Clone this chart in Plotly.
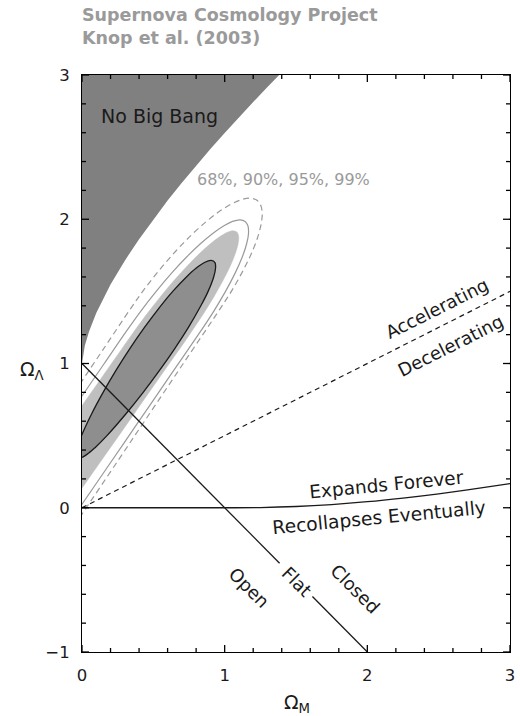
import plotly.graph_objects as go

# "No Big Bang" boundary (Omega_M, Omega_Lambda)
nbb_om = [0, 0.01, 0.02, 0.05, 0.1, 0.2, 0.3, 0.4, 0.5, 0.6, 0.7, 0.8, 0.9, 1.0, 1.1, 1.2, 1.3, 1.4]
nbb_ol = [1.0, 1.08, 1.125, 1.224, 1.35, 1.547, 1.713, 1.862, 2.0, 2.13, 2.253, 2.372, 2.487, 2.598, 2.707, 2.813, 2.917, 3.018]

# Expands forever / recollapses boundary
exp_om = [0, 1.0, 1.25, 1.5, 1.75, 2.0, 2.25, 2.5, 2.75, 3.0]
exp_ol = [0, 0, 0.0015, 0.0087, 0.0223, 0.0419, 0.0671, 0.0964, 0.1306, 0.1675]

# Accelerating / decelerating boundary
acc_om = [0, 3]
acc_ol = [0, 1.5]

# Flat universe line (gap for label)
flat_om = [0, 1.385, None, 1.615, 2]
flat_ol = [1, -0.385, None, -0.615, -1]

# Confidence contours (outlines; parts left of Omega_M = 0 are clipped)
c68_om = [-0.018, -0.038, -0.030, -0.003, 0.067, 0.148, 0.237, 0.333, 0.438, 0.552, 0.636, 0.732, 0.799, 0.858, 0.905,
          0.932, 0.936, 0.923, 0.884, 0.833, 0.746, 0.648, 0.542, 0.429, 0.307, 0.175, 0.095, 0.035, -0.018]
c68_ol = [0.345, 0.37, 0.42, 0.50, 0.65, 0.80, 0.95, 1.10, 1.25, 1.40, 1.50, 1.60, 1.66, 1.70, 1.715,
          1.70, 1.66, 1.60, 1.50, 1.40, 1.25, 1.10, 0.95, 0.80, 0.65, 0.50, 0.42, 0.37, 0.345]

c90_om = [-0.147, 0.030, 0.207, 0.339, 0.437, 0.547, 0.649, 0.741, 0.821, 0.900, 0.967, 1.020, 1.06,
          1.087, 1.098, 1.094, 1.074, 1.041, 0.991, 0.923, 0.835, 0.744, 0.541, 0.329, 0.116, -0.061]
c90_ol = [0.50, 0.75, 1.0, 1.186, 1.32, 1.46, 1.58, 1.68, 1.76, 1.83, 1.88, 1.91, 1.92,
          1.91, 1.88, 1.83, 1.76, 1.68, 1.58, 1.46, 1.32, 1.186, 0.90, 0.60, 0.30, 0.05]

c95_om = [-0.191, -0.017, 0.156, 0.3165, 0.410, 0.520, 0.631, 0.735, 0.830, 0.914, 0.995, 1.0555, 1.107,
          1.1433, 1.163, 1.167, 1.154, 1.124, 1.075, 1.006, 0.922, 0.8365, 0.607, 0.399, 0.191, -0.017]
c95_ol = [0.50, 0.75, 1.0, 1.231, 1.36, 1.50, 1.63, 1.74, 1.83, 1.90, 1.955, 1.985, 1.996,
          1.985, 1.955, 1.90, 1.83, 1.74, 1.63, 1.50, 1.36, 1.231, 0.90, 0.60, 0.30, 0.0]

c99_om = [-0.054, 0.15, 0.3445, 0.433, 0.544, 0.658, 0.766, 0.867, 0.957, 1.046, 1.115, 1.175,
          1.221, 1.249, 1.263, 1.258, 1.236, 1.195, 1.132, 1.053, 0.9725, 0.71, 0.438, 0.234, 0.03, -0.004]
c99_ol = [0.80, 1.10, 1.386, 1.51, 1.65, 1.78, 1.89, 1.98, 2.05, 2.105, 2.135, 2.146,
          2.135, 2.105, 2.05, 1.98, 1.89, 1.78, 1.65, 1.51, 1.386, 1.0, 0.60, 0.30, 0.0, -0.05]

# tick positions (major labelled, minor unlabelled)
x_major = [0, 1, 2, 3]
y_major = [-1, 0, 1, 2, 3]
x_minor = [0.2, 0.4, 0.6, 0.8, 1.2, 1.4, 1.6, 1.8, 2.2, 2.4, 2.6, 2.8]
y_minor = [-0.8, -0.6, -0.4, -0.2, 0.2, 0.4, 0.6, 0.8, 1.2, 1.4, 1.6, 1.8, 2.2, 2.4, 2.6, 2.8]

FONT = "DejaVu Sans, Liberation Sans, sans-serif"
INK = "#1a1a1a"

fig = go.Figure()
fig.add_trace(go.Scatter(x=nbb_om + [1.4, 0], y=nbb_ol + [3.05, 3.05], mode="lines",
                         fill="toself", fillcolor="#808080", line=dict(width=0, color="#808080"),
                         hoverinfo="skip", showlegend=False))
fig.add_trace(go.Scatter(x=c99_om, y=c99_ol, mode="lines", line_shape="spline",
                         line=dict(color="#9a9a9a", width=1.2, dash="6px,4px", smoothing=1.0), showlegend=False))
fig.add_trace(go.Scatter(x=c95_om, y=c95_ol, mode="lines", line_shape="spline",
                         line=dict(color="#9a9a9a", width=1.2, smoothing=1.0), showlegend=False))
fig.add_trace(go.Scatter(x=c90_om, y=c90_ol, mode="lines", fill="toself", fillcolor="#bfbfbf", line_shape="spline",
                         line=dict(color="#bfbfbf", width=0.5, smoothing=1.0), showlegend=False))
fig.add_trace(go.Scatter(x=c68_om, y=c68_ol, mode="lines", fill="toself", fillcolor="#8e8e8e", line_shape="spline",
                         line=dict(color=INK, width=1.3, smoothing=1.0), showlegend=False))
fig.add_trace(go.Scatter(x=acc_om, y=acc_ol, mode="lines",
                         line=dict(color=INK, width=1.2, dash="5px,4px"), showlegend=False))
fig.add_trace(go.Scatter(x=exp_om, y=exp_ol, mode="lines", line_shape="spline",
                         line=dict(color=INK, width=1.3), showlegend=False))
fig.add_trace(go.Scatter(x=flat_om, y=flat_ol, mode="lines",
                         line=dict(color=INK, width=1.3), showlegend=False))

labels = [
    ("No Big Bang", 0.54, 2.716, 0, 19, INK),
    ("68%, 90%, 95%, 99%", 1.414, 2.273, 0, 16, "#9a9a9a"),
    ("Accelerating", 2.488, 1.379, -26.57, 18, INK),
    ("Decelerating", 2.585, 1.123, -26.57, 18, INK),
    ("Expands Forever", 2.134, 0.159, -5.5, 18.5, INK),
    ("Recollapses Eventually", 2.079, -0.069, -5.5, 18.7, INK),
    ("Closed", 1.913, -0.561, 45, 18, INK),
    ("Flat", 1.504, -0.513, 45, 18, INK),
    ("Open", 1.171, -0.554, 45, 18, INK),
]
for txt, x, y, ang, sz, col in labels:
    fig.add_annotation(x=x, y=y, xref="x", yref="y", text=txt, showarrow=False,
                       xanchor="center", yanchor="middle",
                       textangle=ang, font=dict(family=FONT, size=sz, color=col))

fig.add_annotation(x=-0.002, y=1.123, xref="paper", yref="paper", xanchor="left", yanchor="top",
                   align="left", showarrow=False, borderpad=0,
                   text="<b>Supernova Cosmology Project</b><br><b>Knop et al. (2003)</b>",
                   font=dict(family=FONT, size=17.5, color="#9a9a9a"))
fig.add_annotation(x=0.5035, y=-0.0884, xref="paper", yref="paper", showarrow=False,
                   xanchor="center", yanchor="middle",
                   text="Ω<sub>M</sub>", font=dict(family=FONT, size=19, color=INK))
fig.add_annotation(x=-0.1178, y=0.4887, xref="paper", yref="paper", showarrow=False,
                   xanchor="center", yanchor="middle",
                   text="Ω<sub>Λ</sub>", font=dict(family=FONT, size=19, color=INK))

# inward tick marks on all four sides, placed with the axes' own scales (length in pixels)
tick_line = dict(color="#000000", width=1.3)
for vals, ln in ((x_major, 7), (x_minor, 4)):
    for v in vals:
        fig.add_shape(type="line", xref="x", yref="paper", ysizemode="pixel", yanchor=0,
                      x0=v, x1=v, y0=0, y1=ln, line=tick_line, layer="above")
        fig.add_shape(type="line", xref="x", yref="paper", ysizemode="pixel", yanchor=1,
                      x0=v, x1=v, y0=0, y1=-ln, line=tick_line, layer="above")
for vals, ln in ((y_major, 7), (y_minor, 4)):
    for v in vals:
        fig.add_shape(type="line", xref="paper", yref="y", xsizemode="pixel", xanchor=0,
                      x0=0, x1=ln, y0=v, y1=v, line=tick_line, layer="above")
        fig.add_shape(type="line", xref="paper", yref="y", xsizemode="pixel", xanchor=1,
                      x0=0, x1=-ln, y0=v, y1=v, line=tick_line, layer="above")

axis_common = dict(showgrid=False, zeroline=False, showline=True, linecolor="#000000", linewidth=1,
                   mirror=True, ticks="", tickmode="array", ticklabeloverflow="allow",
                   tickfont=dict(family=FONT, size=16.5, color=INK), ticklabelstandoff=8)
fig.update_layout(
    xaxis=dict(range=[0, 3], tickvals=x_major, **axis_common),
    yaxis=dict(range=[-1, 3], tickvals=y_major, **axis_common),
)

fig.update_layout(width=520, height=716, margin=dict(l=82, r=5, t=75, b=64),
                  plot_bgcolor="white", paper_bgcolor="white", showlegend=False)
# remove the browser's default 8px body margin so the figure sits at the page origin
fig.write_html("out.html", config={"displayModeBar": False},
               post_script="document.body.style.margin='0px';")
